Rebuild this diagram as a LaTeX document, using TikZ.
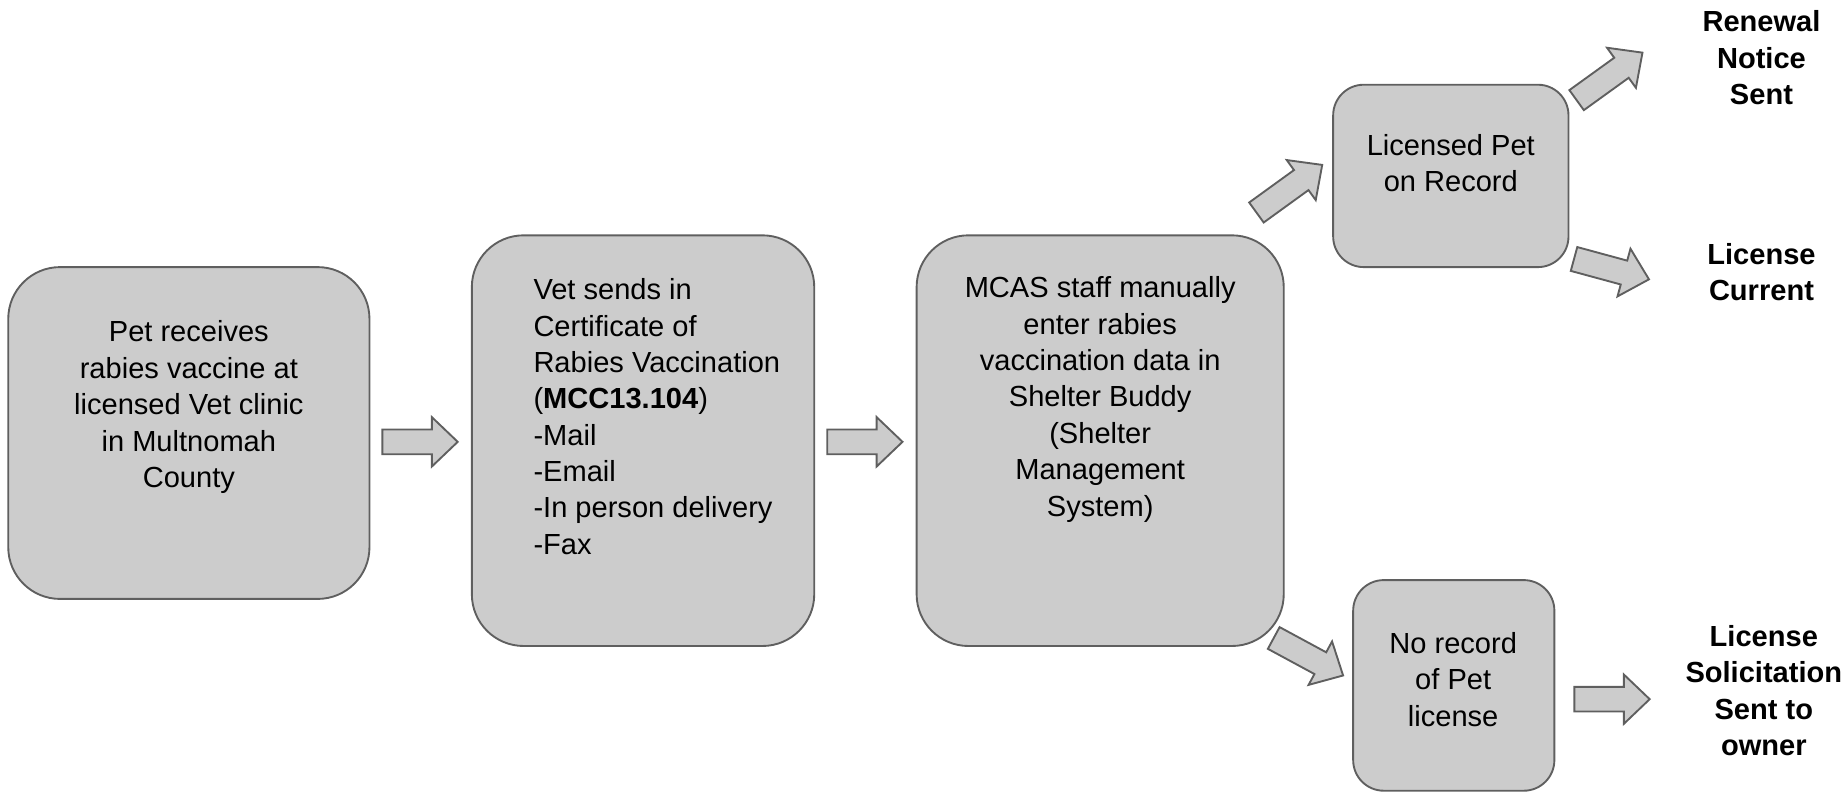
\documentclass[tikz,border=0pt]{standalone}
\usepackage{fontspec}
\setmainfont{Liberation Sans}
\definecolor{boxfill}{HTML}{CCCCCC}
\definecolor{boxline}{HTML}{5F5F5F}
\tikzset{
  boxstyle/.style={draw=boxline, fill=boxfill, line width=0.8pt, rectangle, inner sep=0pt},
  bigbox/.style={boxstyle, rounded corners=22pt},
  smallbox/.style={boxstyle, rounded corners=13pt},
  txt/.style={inner sep=0pt, align=center, font=\fontsize{12.35}{15.45}\selectfont},
  lbl/.style={txt, font=\fontsize{12.35}{15.45}\selectfont\bfseries},
  arrowstyle/.style={draw=boxline, fill=boxfill, line width=0.8pt, line join=miter},
  pics/barrow/.style={code={
    \draw[arrowstyle] (0,-10.5) -- (#1-22,-10.5) -- (#1-22,-21) -- (#1,0)
      -- (#1-22,21) -- (#1-22,10.5) -- (0,10.5) -- cycle;}}
}
\begin{document}
\begin{tikzpicture}[x=0.5pt, y=-0.5pt]
\useasboundingbox (0,0) rectangle (1568,674);

% boxes
\node[bigbox, minimum width=153.5pt, minimum height=141pt] (b1) at (160.5,368) {};
\node[bigbox, minimum width=145.5pt, minimum height=174.5pt] (b2) at (546.5,374.5) {};
\node[bigbox, minimum width=156pt, minimum height=174.5pt] (b3) at (935,374.5) {};
\node[smallbox, minimum width=100pt, minimum height=77.5pt] (b4) at (1233,149.5) {};
\node[smallbox, minimum width=85.5pt, minimum height=89.5pt] (b5) at (1235.5,582.5) {};

% box texts
\node[txt] (t1) at (160.5,346) {Pet receives\\rabies vaccine at\\licensed Vet clinic\\in Multnomah\\County};
\node[txt, align=left, anchor=west] (t2) at (453,354) {Vet sends in\\Certificate of\\Rabies Vaccination\\(\textbf{MCC13.104})\\-Mail\\-Email\\-In person delivery\\-Fax};
\node[txt] (t3) at (935,339.5) {MCAS staff manually\\enter rabies\\vaccination data in\\Shelter Buddy\\(Shelter\\Management\\System)};
\node[txt] (t4) at (1233,138.5) {Licensed Pet\\on Record};
\node[txt] (t5) at (1235,577.5) {No record\\of Pet\\license};

% outcome labels
\node[lbl] (l1) at (1497,49) {Renewal\\Notice\\Sent};
\node[lbl] (l2) at (1497,231.5) {License\\Current};
\node[lbl] (l3) at (1499,587) {License\\Solicitation\\Sent to\\owner};

% block arrows
\pic at (325,375.5) {barrow=64};
\pic at (703,375.5) {barrow=64};
\pic[rotate=35.9] at (1067.8,180.6) {barrow=69};
\pic[rotate=35.8] at (1339.9,85.1) {barrow=69};
\pic[rotate=-15.2] at (1337.7,220.1) {barrow=66};
\pic[rotate=-28.4] at (1082.5,542.2) {barrow=67};
\pic at (1338,594.2) {barrow=64};
\end{tikzpicture}
\end{document}
